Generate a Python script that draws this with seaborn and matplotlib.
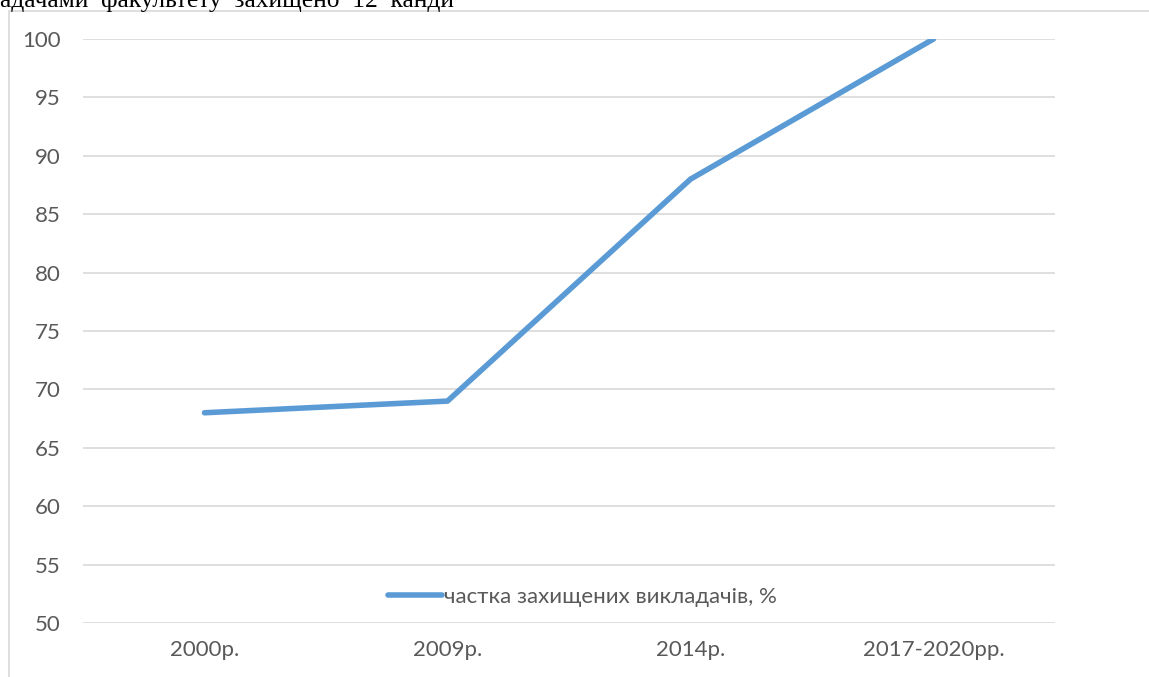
import seaborn as sns
import matplotlib.pyplot as plt
import matplotlib.patches as mpatches
import pandas as pd

# Data
periods = ['2000р.', '2009р.', '2014р.', '2017-2020рр.']
share = [68, 69, 88, 100]
series_name = 'частка захищених викладачів, %'
y_ticks = [50, 55, 60, 65, 70, 75, 80, 85, 90, 95, 100]

df = pd.DataFrame({'period': periods, 'pos': range(len(periods)), 'share': share})

sns.set_style('white')
plt.rcParams['font.family'] = ['Lato', 'DejaVu Sans']

W, H = 1149, 677
fig = plt.figure(figsize=(W / 100, H / 100), dpi=100)

# chart frame (only top and left edges visible)
fig.patches.append(mpatches.Rectangle((8.5 / W, -0.1), 2, 1 - 10.5 / H + 0.1,
                                      transform=fig.transFigure, fill=False,
                                      edgecolor='#d9d9d9', linewidth=1.2))

# clipped line of document text above the chart
fig.text(0, 1 - 7.5 / H, 'адачами  факультету  захищено  12  канди', fontsize=18.4,
         family=['Liberation Serif', 'DejaVu Serif'], va='baseline', ha='left', color='black')

ax = fig.add_axes([83 / W, 1 - 623 / H, (1055 - 83) / W, (623 - 39) / H])
sns.lineplot(data=df, x='pos', y='share', ax=ax, color='#5b9bd5', linewidth=4,
             label=series_name, solid_capstyle='round', solid_joinstyle='round')

ax.set_xlim(-0.5, len(periods) - 0.5)
ax.set_ylim(50, 100)
ax.set_yticks(y_ticks)
ax.set_xticks(range(len(periods)))
ax.set_xticklabels(periods)
ax.set_xlabel('')
ax.set_ylabel('')
ax.grid(axis='y', color='#d9d9d9', linewidth=1.2)
ax.set_axisbelow(True)
for s in ax.spines.values():
    s.set_visible(False)
ax.tick_params(axis='both', length=0, labelsize=16, colors='#595959')
ax.tick_params(axis='y', pad=16)
ax.tick_params(axis='x', pad=12)

leg = ax.legend(loc='lower center', bbox_to_anchor=(0.514, -0.007), frameon=False,
                fontsize=16, handlelength=2.4, handletextpad=0.1)
for t in leg.get_texts():
    t.set_color('#595959')

fig.savefig('out.png', dpi=100)
